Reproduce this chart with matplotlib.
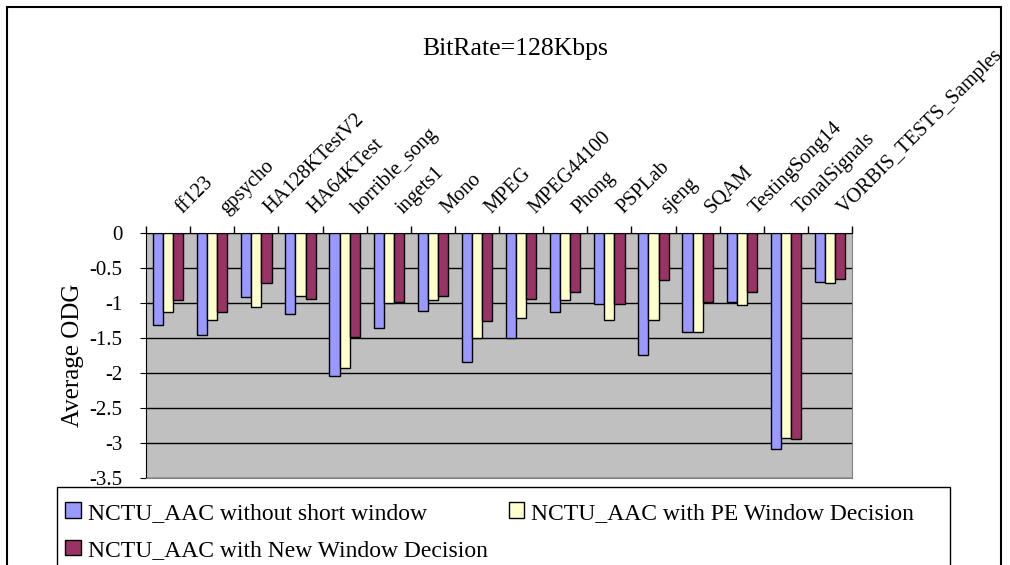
import numpy as np
import matplotlib.pyplot as plt
from matplotlib.patches import Rectangle

songs = ['ff123', 'gpsycho', 'HA128KTestV2', 'HA64KTest', 'horrible_song',
         'ingets1', 'Mono', 'MPEG', 'MPEG44100', 'Phong', 'PSPLab', 'sjeng',
         'SQAM', 'TestingSong14', 'TonalSignals', 'VORBIS_TESTS_Samples']

no_short = [-1.32, -1.46, -0.92, -1.15, -2.05, -1.36, -1.11, -1.84,
            -1.50, -1.13, -1.01, -1.74, -1.42, -0.98, -3.08, -0.70]
pe_window = [-1.13, -1.24, -1.05, -0.90, -1.93, -1.00, -0.96, -1.50,
             -1.22, -0.96, -1.24, -1.24, -1.42, -1.03, -2.93, -0.71]
new_window = [-0.96, -1.13, -0.71, -0.94, -1.49, -0.98, -0.90, -1.26,
              -0.94, -0.84, -1.01, -0.67, -0.98, -0.84, -2.95, -0.65]

series = [('NCTU_AAC without short window', no_short, '#9999FF'),
          ('NCTU_AAC with PE Window Decision', pe_window, '#FFFFCC'),
          ('NCTU_AAC with New Window Decision', new_window, '#993366')]

plt.rcParams['font.family'] = ['Liberation Serif', 'DejaVu Serif']

fig = plt.figure(figsize=(10.1, 5.65), dpi=100)
ax = fig.add_axes([0.1446, 0.154, 0.699, 0.4336])

x = np.arange(len(songs))
w = 0.23
bars = []
for i, (name, vals, col) in enumerate(series):
    b = ax.bar(x + (i - 1) * w, vals, w, color=col, edgecolor='black',
               linewidth=1, label=name, zorder=3)
    bars.append(b)

ax.set_facecolor('#C0C0C0')
ax.set_xlim(-0.5, len(songs) - 0.5)
ax.set_ylim(-3.5, 0)
ax.set_yticks(np.arange(-3.5, 0.01, 0.5))
ax.set_yticklabels(['-3.5', '-3', '-2.5', '-2', '-1.5', '-1', '-0.5', '0'])
ax.yaxis.grid(True, color='black', linewidth=1, zorder=0)
ax.tick_params(axis='y', labelsize=15, direction='out', length=4, pad=13)

# category labels sit above the zero line, ticks between groups
ax.xaxis.tick_top()
ax.set_xticks(np.arange(-0.5, len(songs), 1.0))
ax.set_xticklabels([])
ax.tick_params(axis='x', direction='out', length=5, width=1)
for i, s in enumerate(songs):
    ax.text(i + 0.4, 0.22, s, rotation=45, rotation_mode='anchor',
            ha='left', va='bottom', fontsize=14.7, clip_on=False)

ax.spines['top'].set_color('black')
ax.spines['left'].set_color('black')
ax.spines['right'].set_color('#808080')
ax.spines['bottom'].set_color('#808080')

ax.set_ylabel('Average ODG', fontsize=18, labelpad=4)
fig.text(0.51, 0.913, 'BitRate=128Kbps', ha='center', va='center', fontsize=18.5)

# two columns filled row by row: first row holds series 1 and 2
order = [0, 2, 1]
leg = fig.legend([bars[k] for k in order], [series[k][0] for k in order],
                 loc='upper left', bbox_to_anchor=(0.0495, 0.138),
                 ncol=2, fontsize=17, frameon=False,
                 handlelength=0.65, handleheight=0.65,
                 handletextpad=0.3, borderaxespad=0, borderpad=0.65,
                 labelspacing=0.68, columnspacing=0.9)

# legend box runs on past the bottom edge
fig.patches.append(Rectangle((0.0565, -0.1), 0.884, 0.238, transform=fig.transFigure,
                             facecolor='white', edgecolor='black', linewidth=1,
                             zorder=0))
fig.patches.append(Rectangle((0.007, -0.1), 0.984, 1.088, transform=fig.transFigure,
                             fill=False, edgecolor='black', linewidth=1.5))

fig.savefig('out.png', dpi=100)
